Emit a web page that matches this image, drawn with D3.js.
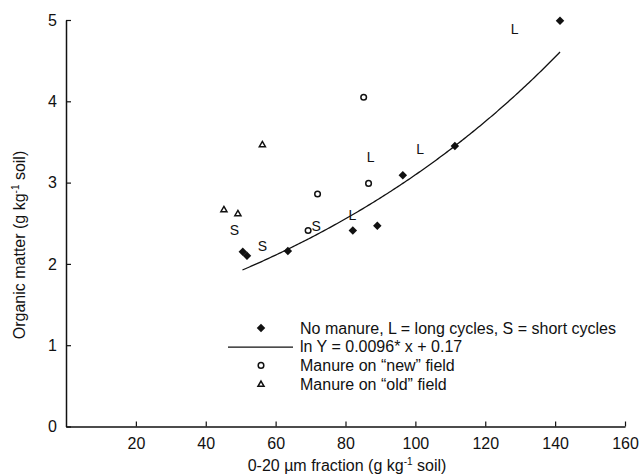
<!DOCTYPE html>
<html>
<head>
<meta charset="utf-8">
<script src="https://cdn.jsdelivr.net/npm/d3@7.9.0/dist/d3.min.js"></script>
<style>
  body { margin: 0; background: #fff; }
  svg { font-family: "Liberation Sans", Arial, sans-serif; }
</style>
</head>
<body>
<div id="chart"></div>
<script>
// No manure (diamonds)
const noManure = [
    { x: 50.6, y: 2.15 },
    { x: 51.8, y: 2.10 },
    { x: 63.5, y: 2.16 },
    { x: 82.1, y: 2.41 },
    { x: 89.1, y: 2.47 },
    { x: 96.4, y: 3.09 },
    { x: 111.3, y: 3.45 },
    { x: 141.4, y: 4.99 },
];

// Manure on "new" field (circles)
const manureNew = [
    { x: 69.3, y: 2.41 },
    { x: 72.0, y: 2.86 },
    { x: 85.2, y: 4.05 },
    { x: 86.6, y: 2.99 },
];

// Manure on "old" field (triangles)
const manureOld = [
    { x: 45.2, y: 2.67 },
    { x: 49.2, y: 2.62 },
    { x: 56.2, y: 3.47 },
];

// L / S cycle annotations
const cycleLabels = [
    { x: 48.2, y: 2.41, t: 'S' },
    { x: 56.2, y: 2.22, t: 'S' },
    { x: 71.6, y: 2.46, t: 'S' },
    { x: 82.0, y: 2.60, t: 'L' },
    { x: 87.2, y: 3.31, t: 'L' },
    { x: 101.4, y: 3.41, t: 'L' },
    { x: 128.4, y: 4.89, t: 'L' },
];

// fitted curve: ln Y = a*x + b
const fitA = 0.0096;
const fitB = 0.17;
const fitRange = [50.5, 141.4];

const xTicks = [20, 40, 60, 80, 100, 120, 140, 160];
const yTicks = [0, 1, 2, 3, 4, 5];

const legendItems = [
    { type: 'diamond', label: 'No manure, L = long cycles, S = short cycles' },
    { type: 'line', label: 'ln Y = 0.0096* x + 0.17' },
    { type: 'circle', label: 'Manure on \u201cnew\u201d field' },
    { type: 'triangle', label: 'Manure on \u201cold\u201d field' },
];

const width = 639;
const height = 476;
const margin = { top: 20, right: 14, bottom: 49.5, left: 66 };
const ink = '#111';

const svg = d3.select('#chart')
    .append('svg')
    .attr('width', width)
    .attr('height', height);

const xScale = d3.scaleLinear()
    .domain([0, 160])
    .range([margin.left, width - margin.right]);

const yScale = d3.scaleLinear()
    .domain([0, 5])
    .range([height - margin.bottom, margin.top]);

// axes, ticks point inward
const xAxis = svg.append('g')
    .attr('transform', `translate(0, ${yScale(0)})`)
    .call(d3.axisBottom(xScale).tickValues(xTicks).tickFormat(d3.format('d'))
        .tickSizeInner(-5).tickSizeOuter(0).tickPadding(11));

const yAxis = svg.append('g')
    .attr('transform', `translate(${xScale(0)}, 0)`)
    .call(d3.axisLeft(yScale).tickValues(yTicks).tickFormat(d3.format('d'))
        .tickSizeInner(-5).tickSizeOuter(0).tickPadding(9));

[xAxis, yAxis].forEach((g) => {
    g.select('.domain').attr('stroke', ink).attr('stroke-width', 1.5);
    g.selectAll('.tick line').attr('stroke', ink).attr('stroke-width', 1.2);
    g.selectAll('.tick text')
        .attr('fill', ink)
        .style('font-size', '16px')
        .style('font-family', '"Liberation Sans", Arial, sans-serif');
});

// axis titles
const xTitle = svg.append('text')
    .attr('x', 347)
    .attr('y', 471)
    .attr('text-anchor', 'middle')
    .attr('fill', ink)
    .style('font-size', '16px');
xTitle.append('tspan').text('0-20 \u00b5m fraction (g kg');
xTitle.append('tspan').attr('dy', -6).style('font-size', '10px').text('-1');
xTitle.append('tspan').attr('dy', 6).text(' soil)');

const yTitle = svg.append('text')
    .attr('transform', 'translate(25, 245) rotate(-90)')
    .attr('text-anchor', 'middle')
    .attr('fill', ink)
    .style('font-size', '16px');
yTitle.append('tspan').text('Organic matter (g kg');
yTitle.append('tspan').attr('dy', -6).style('font-size', '10px').text('-1');
yTitle.append('tspan').attr('dy', 6).text(' soil)');

// fitted curve
const curveX = d3.range(fitRange[0], fitRange[1], 0.5).concat([fitRange[1]]);
const curve = curveX.map((x) => ({ x, y: Math.exp(fitA * x + fitB) }));

svg.append('path')
    .datum(curve)
    .attr('fill', 'none')
    .attr('stroke', ink)
    .attr('stroke-width', 1.3)
    .attr('d', d3.line().x((d) => xScale(d.x)).y((d) => yScale(d.y)));

// symbols
const diamond = d3.symbol().type(d3.symbolSquare).size(36);
const triangle = d3.symbol().type(d3.symbolTriangle).size(16);

svg.append('g')
    .selectAll('path')
    .data(noManure)
    .join('path')
    .attr('d', diamond)
    .attr('transform', (d) => `translate(${xScale(d.x)}, ${yScale(d.y)}) rotate(45)`)
    .attr('fill', ink);

svg.append('g')
    .selectAll('circle')
    .data(manureNew)
    .join('circle')
    .attr('cx', (d) => xScale(d.x))
    .attr('cy', (d) => yScale(d.y))
    .attr('r', 2.8)
    .attr('fill', 'none')
    .attr('stroke', ink)
    .attr('stroke-width', 1.5);

svg.append('g')
    .selectAll('path')
    .data(manureOld)
    .join('path')
    .attr('d', triangle)
    .attr('transform', (d) => `translate(${xScale(d.x)}, ${yScale(d.y) + 0.5})`)
    .attr('fill', 'none')
    .attr('stroke', ink)
    .attr('stroke-width', 1.5);

svg.append('g')
    .selectAll('text')
    .data(cycleLabels)
    .join('text')
    .attr('x', (d) => xScale(d.x))
    .attr('y', (d) => yScale(d.y))
    .attr('dy', '0.35em')
    .attr('text-anchor', 'middle')
    .attr('fill', ink)
    .style('font-size', '14px')
    .text((d) => d.t);

// legend
const legend = svg.append('g').attr('transform', 'translate(261, 328)');
const rowH = 18.7;

legendItems.forEach((item, i) => {
    const row = legend.append('g').attr('transform', `translate(0, ${i * rowH})`);
    if (item.type === 'diamond') {
        row.append('path').attr('d', diamond).attr('transform', 'rotate(45)').attr('fill', ink);
    } else if (item.type === 'line') {
        row.append('line').attr('x1', -33).attr('x2', 32).attr('y1', 0.5).attr('y2', 0.5)
            .attr('stroke', ink).attr('stroke-width', 1.3);
    } else if (item.type === 'circle') {
        row.append('circle').attr('r', 2.8).attr('fill', 'none').attr('stroke', ink).attr('stroke-width', 1.5);
    } else {
        row.append('path').attr('d', triangle).attr('transform', 'translate(0, 0.5)')
            .attr('fill', 'none').attr('stroke', ink).attr('stroke-width', 1.5);
    }
    row.append('text')
        .attr('x', 39)
        .attr('dy', '0.35em')
        .attr('fill', ink)
        .style('font-size', '16px')
        .text(item.label);
});
</script>
</body>
</html>
